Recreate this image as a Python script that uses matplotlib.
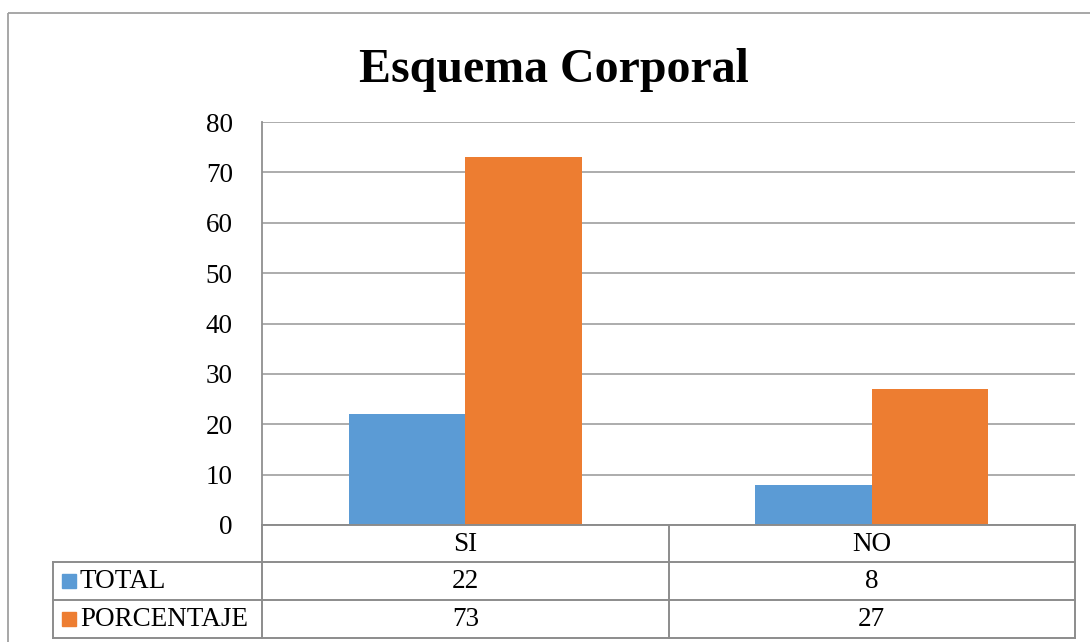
import matplotlib
matplotlib.use('Agg')
import matplotlib.pyplot as plt
from matplotlib.patches import Rectangle
import numpy as np

plt.rcParams['font.family'] = ['Liberation Serif', 'DejaVu Serif']

categories = ['SI', 'NO']
series_names = ['TOTAL', 'PORCENTAJE']
total = [22, 8]
porcentaje = [73, 27]
colors = ['#5B9BD5', '#ED7D31']
yticks = [0, 10, 20, 30, 40, 50, 60, 70, 80]

W, H = 1090, 642
fig = plt.figure(figsize=(W / 100, H / 100), dpi=100)

# plot area in pixels
left, right, top, zero_y = 262, 1075, 122, 525
ax = fig.add_axes([left / W, 1 - zero_y / H, (right - left) / W, (zero_y - top) / H])

x = np.arange(len(categories))
bw = 0.287
series = [total, porcentaje]
for i, vals in enumerate(series):
    ax.bar(x + (i - 0.5) * bw, vals, width=bw, color=colors[i], zorder=3)

ax.set_xlim(-0.5, len(categories) - 0.5)
ax.set_ylim(0, 80)
ax.set_yticks(yticks)
ax.yaxis.grid(True, color='#a6a6a6', linewidth=1.3, zorder=0)
for s in ['top', 'right', 'bottom']:
    ax.spines[s].set_visible(False)
ax.spines['left'].set_color('#909090')
ax.spines['left'].set_linewidth(1.3)
ax.set_xticks([])
ax.tick_params(axis='y', length=0, pad=21, labelsize=19.5)

fig.text(554 / W, 1 - 70 / H, 'Esquema Corporal', ha='center', va='center',
         fontsize=34.5, fontweight='bold')

# overlay in pixel coordinates for the data table and outer border
ov = fig.add_axes([0, 0, 1, 1], zorder=5)
ov.set_xlim(0, W)
ov.set_ylim(H, 0)
ov.axis('off')
ov.patch.set_alpha(0)

lc = '#8c8c8c'
lw = 1.4
ov.add_patch(Rectangle((8, 13), W + 20, H + 20, fill=False, edgecolor='#a0a0a0', linewidth=1.3))

row_edges = [zero_y, 562, 600, 638]
tab_left = 53
col_w = (right - left) / len(categories)
col_edges = [left + k * col_w for k in range(len(categories) + 1)]

# horizontal lines
ov.plot([left, right], [row_edges[0]] * 2, color=lc, lw=lw)
for ry in row_edges[1:]:
    ov.plot([tab_left, right], [ry, ry], color=lc, lw=lw)
# vertical lines
for cx in col_edges:
    ov.plot([cx, cx], [row_edges[0], row_edges[-1]], color=lc, lw=lw)
ov.plot([tab_left, tab_left], [row_edges[1], row_edges[-1]], color=lc, lw=lw)

fs = 19.5
for j, cat in enumerate(categories):
    cx = (col_edges[j] + col_edges[j + 1]) / 2
    ov.text(cx, (row_edges[0] + row_edges[1]) / 2 + 1, cat, ha='center', va='center', fontsize=fs)
for i, name in enumerate(series_names):
    cy = (row_edges[i + 1] + row_edges[i + 2]) / 2
    ov.add_patch(Rectangle((62, cy - 7), 14, 14, color=colors[i]))
    ov.text(80, cy + 1, name, ha='left', va='center', fontsize=fs)
    for j, v in enumerate(series[i]):
        cx = (col_edges[j] + col_edges[j + 1]) / 2
        ov.text(cx, cy + 1, str(v), ha='center', va='center', fontsize=fs)

fig.savefig('out.png', dpi=100)
